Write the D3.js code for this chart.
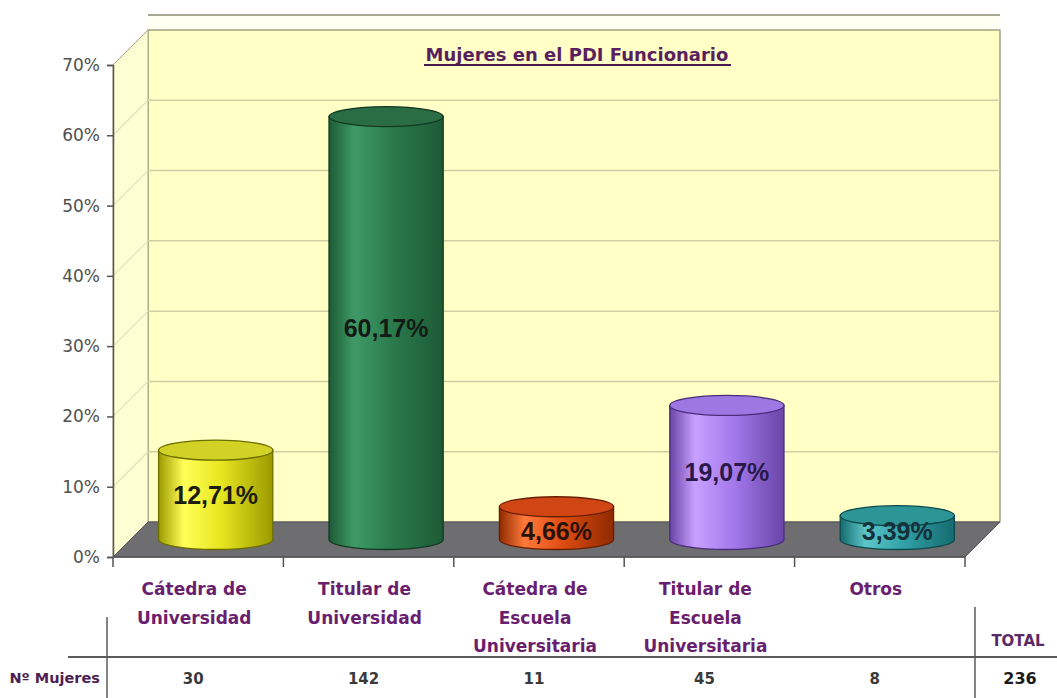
<!DOCTYPE html>
<html>
<head>
<meta charset="utf-8">
<script src="https://cdn.jsdelivr.net/npm/d3@7"></script>
<style>
  html, body { margin: 0; padding: 0; background: #ffffff; }
  svg { display: block; }
</style>
</head>
<body>
<svg id="chart" width="1057" height="698"></svg>
<script>
// Data: share of women among tenured teaching staff (PDI funcionario)
const categoryLines = [
  ["Cátedra de", "Universidad"],
  ["Titular de", "Universidad"],
  ["Cátedra de", "Escuela", "Universitaria"],
  ["Titular de", "Escuela", "Universitaria"],
  ["Otros"]
];
const percentages = [12.71, 60.17, 4.66, 19.07, 3.39];
const percentLabels = ["12,71%", "60,17%", "4,66%", "19,07%", "3,39%"];
const counts = [30, 142, 11, 45, 8];
const totalCount = 236;
const yTicks = [0, 10, 20, 30, 40, 50, 60, 70];
const chartTitle = "Mujeres en el PDI Funcionario";
const rowLabel = "Nº Mujeres";
const totalLabel = "TOTAL";

// Cylinder palettes: [edge dark, highlight, mid, top face, outline, label]
const palettes = [
  ["#9a9a00", "#ffff58", "#e6e620", "#d2d226", "#6e6e00", "#1c1c10"],
  ["#1d5a36", "#3f9a66", "#2a7a4c", "#2a6c44", "#123a22", "#141a14"],
  ["#8e2a00", "#ff7a3a", "#e04c12", "#cf4614", "#6a1e00", "#2a1208"],
  ["#6a44a8", "#c8a0ff", "#a47aec", "#9e78e2", "#4a2c7a", "#2a1848"],
  ["#156a6e", "#5cc6c8", "#30a2a8", "#2c9696", "#0e4a4e", "#16303a"]
];

const svg = d3.select("#chart");
const font = "'DejaVu Sans', Verdana, sans-serif";

// Plot geometry (front plane) and 3-D depth offset
const left = 113, right = 965, baseY = 557, topY = 65;
const depthX = 35, depthY = -35;

const y = d3.scaleLinear().domain([0, 70]).range([baseY, topY]);
const x = d3.scaleBand().domain(d3.range(percentages.length)).range([left, right]).padding(0);

// Defs: gradients for the cylinders
const defs = svg.append("defs");
palettes.forEach((p, i) => {
  const g = defs.append("linearGradient").attr("id", "cyl" + i)
    .attr("x1", "0%").attr("x2", "100%").attr("y1", "0%").attr("y2", "0%");
  g.append("stop").attr("offset", "0%").attr("stop-color", p[0]);
  g.append("stop").attr("offset", "22%").attr("stop-color", p[1]);
  g.append("stop").attr("offset", "55%").attr("stop-color", p[2]);
  g.append("stop").attr("offset", "100%").attr("stop-color", p[0]);
});

// Cropped strip of a second frame edge above the chart
svg.append("rect").attr("x", left + depthX).attr("y", 15)
  .attr("width", right - left).attr("height", 13).attr("fill", "#fffff2");
svg.append("line").attr("x1", left + depthX).attr("x2", right + depthX)
  .attr("y1", 15).attr("y2", 15).attr("stroke", "#8a8a70").attr("stroke-width", 1.5);

// Back wall
const backTop = y(70) + depthY, backBottom = baseY + depthY;
svg.append("rect")
  .attr("x", left + depthX).attr("y", backTop)
  .attr("width", right - left).attr("height", backBottom - backTop)
  .attr("fill", "#ffffc6").attr("stroke", "#8a8a6a").attr("stroke-width", 1.2);

// Side wall
svg.append("path")
  .attr("d", `M${left},${baseY} L${left},${y(70)} L${left + depthX},${backTop} L${left + depthX},${backBottom} Z`)
  .attr("fill", "#ffffd4").attr("stroke", "#a8a888").attr("stroke-width", 1);

// Gridlines on back and side walls
const grid = svg.append("g");
yTicks.filter(t => t > 0 && t < 70).forEach(t => {
  grid.append("line").attr("x1", left + depthX).attr("x2", right + depthX)
    .attr("y1", y(t) + depthY).attr("y2", y(t) + depthY)
    .attr("stroke", "#cfcfa4").attr("stroke-width", 1.5);
  grid.append("line").attr("x1", left).attr("x2", left + depthX)
    .attr("y1", y(t)).attr("y2", y(t) + depthY)
    .attr("stroke", "#e2e2b8").attr("stroke-width", 1.2);
});

// Floor
svg.append("path")
  .attr("d", `M${left},${baseY} L${right},${baseY} L${right + depthX},${baseY + depthY} L${left + depthX},${baseY + depthY} Z`)
  .attr("fill", "#6e6d70").attr("stroke", "#55535a").attr("stroke-width", 1);

// Y axis
const yAxis = svg.append("g").attr("transform", `translate(${left},0)`)
  .call(d3.axisLeft(y).tickValues(yTicks).tickSize(6).tickPadding(7).tickFormat(d => d + "%"));
yAxis.select(".domain").attr("stroke", "#555").attr("stroke-width", 1.5);
yAxis.selectAll(".tick line").attr("stroke", "#555").attr("stroke-width", 1.5);
yAxis.selectAll(".tick text").attr("font-family", font).attr("font-size", 17)
  .attr("fill", "#505050");

// X axis baseline with ticks at category boundaries
const xAxis = svg.append("g");
xAxis.append("line").attr("x1", left).attr("x2", right).attr("y1", baseY).attr("y2", baseY)
  .attr("stroke", "#555").attr("stroke-width", 1.5);
d3.range(percentages.length + 1).forEach(i => {
  const bx = i < percentages.length ? x(i) : x(percentages.length - 1) + x.bandwidth();
  xAxis.append("line").attr("x1", bx).attr("x2", bx).attr("y1", baseY).attr("y2", baseY + 10)
    .attr("stroke", "#555").attr("stroke-width", 1.5);
});

// Cylinders
const rx = x.bandwidth() * 0.335, ry = 10;
const bars = svg.append("g").selectAll("g").data(percentages).enter().append("g");
bars.each(function (v, i) {
  const g = d3.select(this);
  const p = palettes[i];
  const cx = x(i) + x.bandwidth() / 2 + depthX / 2;
  const cyBase = baseY + depthY / 2;
  const cyTop = y(v) + depthY / 2;
  // body: side walls plus front half of the bottom ellipse
  g.append("path")
    .attr("d", `M${cx - rx},${cyTop} L${cx - rx},${cyBase} A${rx},${ry} 0 0 0 ${cx + rx},${cyBase} L${cx + rx},${cyTop} Z`)
    .attr("fill", `url(#cyl${i})`).attr("stroke", p[4]).attr("stroke-width", 1.3);
  // top face
  g.append("ellipse").attr("cx", cx).attr("cy", cyTop).attr("rx", rx).attr("ry", ry)
    .attr("fill", p[3]).attr("stroke", p[4]).attr("stroke-width", 1.3);
  // value label: centred on the body, dropped towards the base on short cylinders
  const bodyH = cyBase - cyTop;
  const ly = bodyH < 50 ? cyBase - 9 : cyTop + bodyH / 2;
  g.append("text").attr("x", cx).attr("y", ly)
    .attr("text-anchor", "middle").attr("dominant-baseline", "central")
    .attr("font-family", "'Liberation Sans', Arial, sans-serif").attr("font-weight", "bold")
    .attr("font-size", 25).attr("fill", p[5])
    .text(percentLabels[i]);
});

// Title
svg.append("text").attr("x", 577).attr("y", 61)
  .attr("text-anchor", "middle").attr("font-family", font).attr("font-weight", "bold")
  .attr("font-size", 18).attr("fill", "#5a1f5e").text(chartTitle);
svg.append("line").attr("x1", 424).attr("x2", 731).attr("y1", 65).attr("y2", 65)
  .attr("stroke", "#4a1a4e").attr("stroke-width", 2);

// Category labels
categoryLines.forEach((lines, i) => {
  const cx = x(i) + x.bandwidth() / 2 - 4;
  const t = svg.append("text").attr("text-anchor", "middle")
    .attr("font-family", font).attr("font-weight", "bold").attr("font-size", 17)
    .attr("fill", "#6a1e6e");
  lines.forEach((ln, k) => {
    t.append("tspan").attr("x", cx).attr("y", 595 + k * 28.5).text(ln);
  });
});

// Data table below the chart
const table = svg.append("g");
table.append("line").attr("x1", 68).attr("x2", 1057).attr("y1", 657).attr("y2", 657)
  .attr("stroke", "#5a5a5a").attr("stroke-width", 2);
table.append("line").attr("x1", 107).attr("x2", 107).attr("y1", 617).attr("y2", 698)
  .attr("stroke", "#5a5a5a").attr("stroke-width", 1.5);
table.append("line").attr("x1", 975).attr("x2", 975).attr("y1", 607).attr("y2", 698)
  .attr("stroke", "#5a5a5a").attr("stroke-width", 1.5);

table.append("text").attr("x", 100).attr("y", 683).attr("text-anchor", "end")
  .attr("font-family", font).attr("font-weight", "bold").attr("font-size", 14.5)
  .attr("fill", "#4e1e52").text(rowLabel);

counts.forEach((c, i) => {
  table.append("text").attr("x", x(i) + x.bandwidth() / 2 - 5).attr("y", 684)
    .attr("text-anchor", "middle").attr("font-family", font).attr("font-weight", "bold")
    .attr("font-size", 15).attr("fill", "#3a3a3a").text(c);
});

table.append("text").attr("x", 1018).attr("y", 646).attr("text-anchor", "middle")
  .attr("font-family", font).attr("font-weight", "bold").attr("font-size", 15)
  .attr("fill", "#5a2a66").text(totalLabel);
table.append("text").attr("x", 1020).attr("y", 684).attr("text-anchor", "middle")
  .attr("font-family", font).attr("font-weight", "bold").attr("font-size", 16)
  .attr("fill", "#1a1a1a").text(totalCount);
</script>
</body>
</html>
